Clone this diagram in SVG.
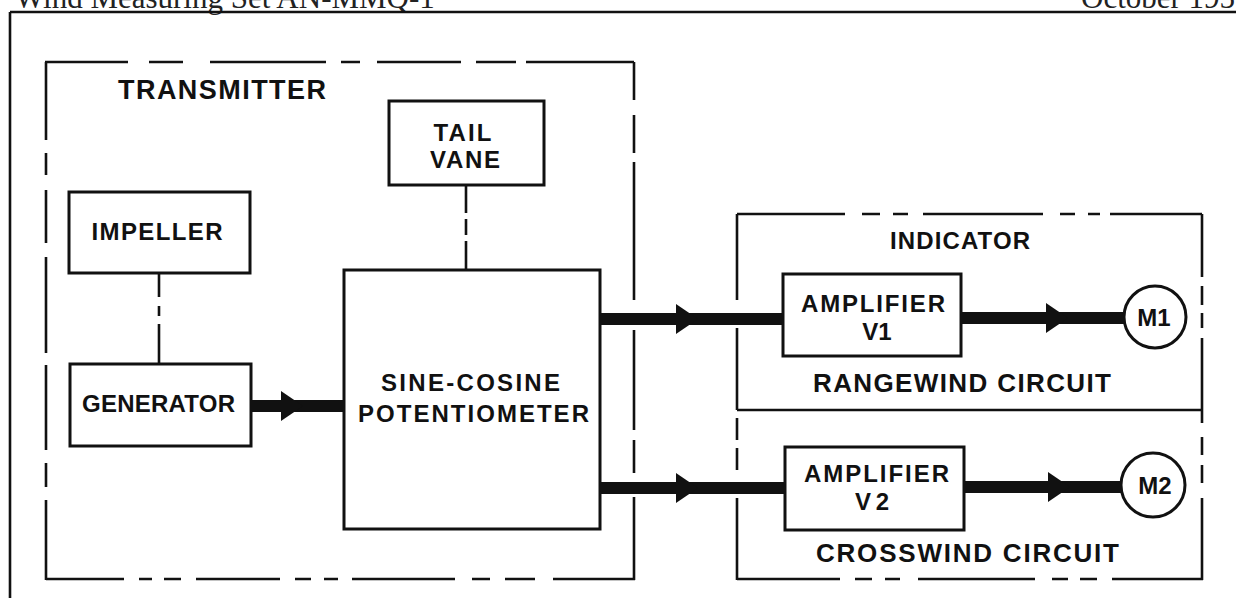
<svg xmlns="http://www.w3.org/2000/svg" width="1236" height="598" viewBox="0 0 1236 598">
<style>
.box{fill:none;stroke:#111;stroke-width:3}
.edge{fill:none;stroke:#111;stroke-width:2.6;stroke-linecap:butt}
.dlink{fill:none;stroke:#111;stroke-width:2.6}
.thick{fill:none;stroke:#111;stroke-width:12;marker-mid:url(#ah)}
.lbl{font-family:"Liberation Sans",Arial,sans-serif;font-weight:bold;font-size:24px;fill:#111;text-anchor:middle}
.hdr{font-family:"Liberation Serif","Times New Roman",serif;font-size:31px;fill:#222}
</style>
<defs>
<marker id="ah" viewBox="0 0 22 30" refX="22" refY="15" markerUnits="userSpaceOnUse" markerWidth="22" markerHeight="30" orient="auto">
<path d="M0,0 L22,15 L0,30 Z" fill="#111"/>
</marker>
</defs>
<rect width="1236" height="598" fill="#fff"/>
<g id="page">
<text class="hdr" x="15" y="8">Wind Measuring Set AN-MMQ-1</text>
<text class="hdr" x="1081" y="8">October 1951</text>
<path class="edge" d="M10,12 H1236 M10,12 V598"/>
</g>
<g id="transmitter">
<path class="edge" d="M45,62 H128 M149,62 H183 M210,62 H326 M341,62 H360 M377,62 H461 M476,62 H516 M526,62 H634
M46,62 V140 M46,153 V175 M46,190 V243 M46,257 V353 M46,365 V450 M46,463 V487 M46,500 V580
M634,62 V100 M634,115 V153 M634,162 V300 M634,330 V430 M634,440 V473 M634,497 V580
M46,579 H124 M139,579 H152 M164,579 H181 M196,579 H280 M295,579 H311 M324,579 H338 M352,579 H455 M472,579 H490 M505,579 H535 M553,579 H635"/>
<text class="lbl" x="222" y="99" style="font-size:27px" textLength="208" lengthAdjust="spacing">TRANSMITTER</text>
</g>
<g id="tail-vane">
<rect class="box" x="389" y="101" width="155" height="84"/>
<text class="lbl" x="462.5" y="141" textLength="58" lengthAdjust="spacing">TAIL</text>
<text class="lbl" x="465" y="168" textLength="70" lengthAdjust="spacing">VANE</text>
</g>
<g id="impeller">
<rect class="box" x="69" y="192" width="181" height="81"/>
<text class="lbl" x="157" y="240" textLength="131" lengthAdjust="spacing">IMPELLER</text>
</g>
<g id="generator">
<rect class="box" x="70" y="364" width="181" height="82"/>
<text class="lbl" x="158.5" y="412" textLength="153" lengthAdjust="spacing">GENERATOR</text>
</g>
<g id="potentiometer">
<rect class="box" x="344" y="270" width="256" height="259"/>
<text class="lbl" x="470.5" y="391" textLength="179" lengthAdjust="spacing">SINE-COSINE</text>
<text class="lbl" x="473.5" y="422" textLength="231" lengthAdjust="spacing">POTENTIOMETER</text>
</g>
<g id="indicator">
<path class="edge" d="M737,214 H845 M862,214 H880 M893,214 H908 M923,214 H1043 M1060,214 H1075 M1088,214 H1100 M1110,214 H1202
M737,214 V300 M737,328 V410 M737,418 V440 M737,448 V470 M737,498 V580
M1202,214 V277 M1202,286 V305 M1202,313 V328 M1202,338 V423 M1202,437 V455 M1202,465 V483 M1202,498 V580
M737,579 H840 M855,579 H872 M885,579 H900 M918,579 H1035 M1052,579 H1068 M1080,579 H1097 M1112,579 H1203
M737,410 H1202"/>
<text class="lbl" x="960" y="249" textLength="140" lengthAdjust="spacing">INDICATOR</text>
<text class="lbl" x="962" y="392" style="font-size:26px" textLength="298" lengthAdjust="spacing">RANGEWIND CIRCUIT</text>
<text class="lbl" x="967.5" y="562" style="font-size:26px" textLength="303" lengthAdjust="spacing">CROSSWIND CIRCUIT</text>
</g>
<g id="amplifier-v1">
<rect class="box" x="783" y="274" width="178" height="82"/>
<text class="lbl" x="873" y="312" textLength="144" lengthAdjust="spacing">AMPLIFIER</text>
<text class="lbl" x="877" y="340">V1</text>
</g>
<g id="amplifier-v2">
<rect class="box" x="785" y="447" width="179" height="83"/>
<text class="lbl" x="876.5" y="482" textLength="145" lengthAdjust="spacing">AMPLIFIER</text>
<text class="lbl" x="872" y="510" textLength="34" lengthAdjust="spacing">V2</text>
</g>
<g id="meter-m1">
<circle class="box" cx="1155" cy="317" r="31" stroke-width="2.6"/>
<text class="lbl" x="1154" y="326" style="font-size:24px">M1</text>
</g>
<g id="meter-m2">
<circle class="box" cx="1153" cy="485" r="32" stroke-width="2.6"/>
<text class="lbl" x="1155" y="494" style="font-size:24px">M2</text>
</g>
<g id="connectors">
<path class="dlink" d="M159,273 V297 M159,306 V316 M159,324 V364"/>
<path class="dlink" d="M466,185 V213 M466,219 V235 M466,241 V270"/>
<path class="thick" d="M251,406 H303 H344"/>
<path class="thick" d="M600,319 H698 H783"/>
<path class="thick" d="M600,488 H698 H785"/>
<path class="thick" d="M961,318 H1068 H1124"/>
<path class="thick" d="M964,487 H1070 H1121"/>
</g>
</svg>
